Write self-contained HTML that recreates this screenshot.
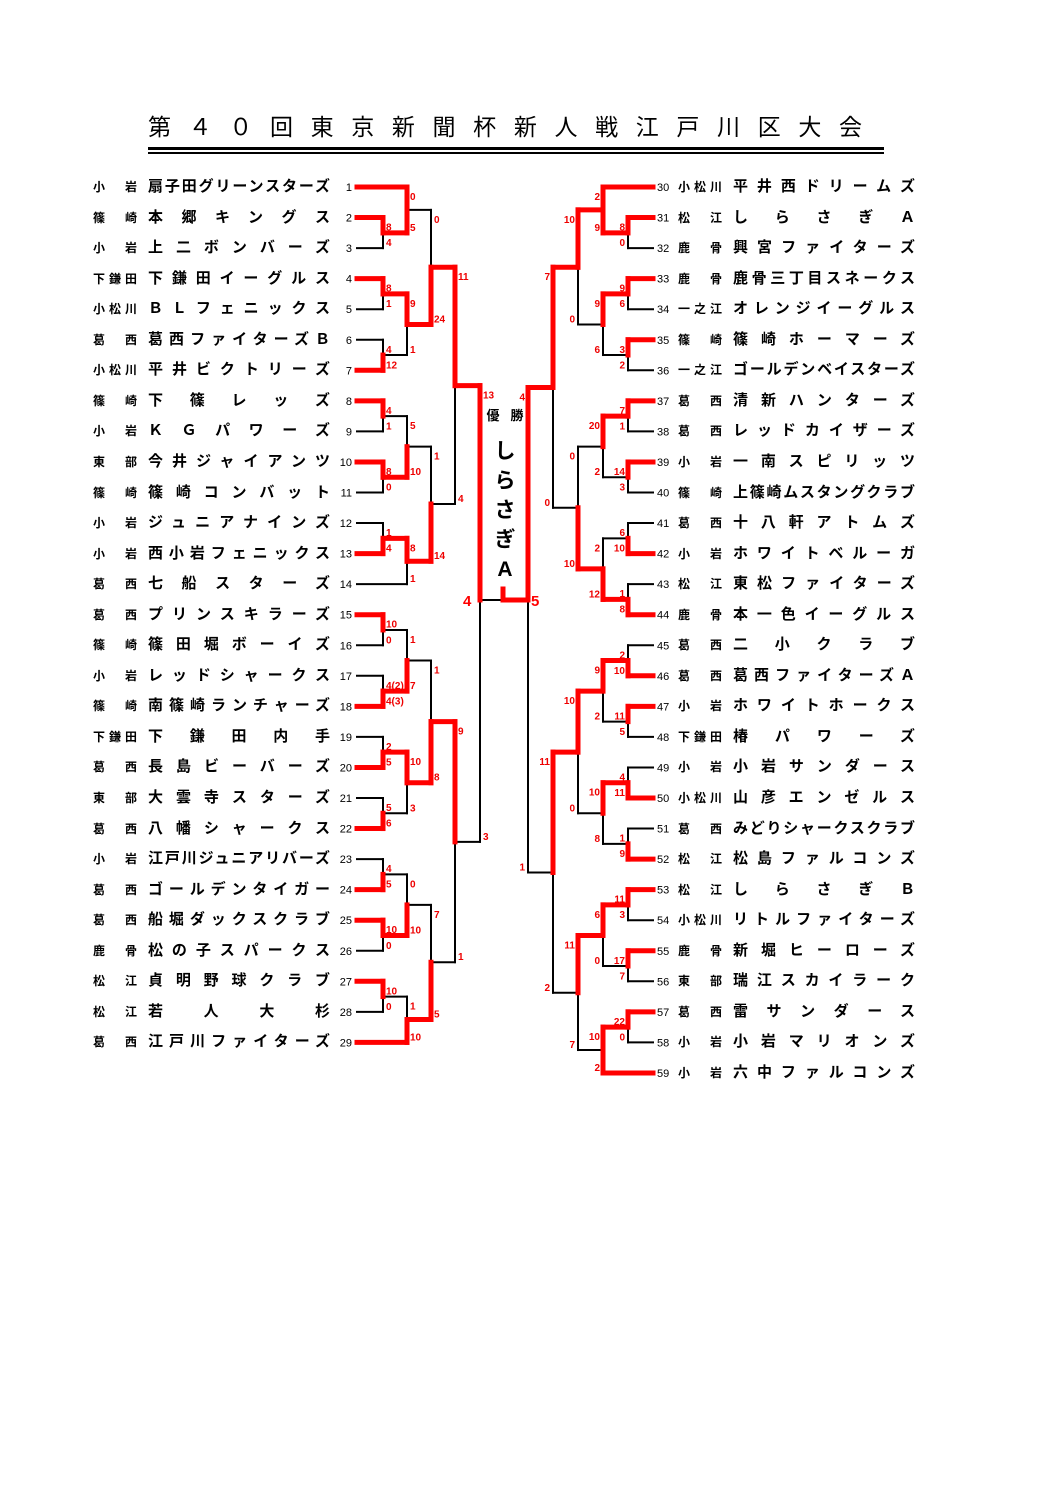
<!DOCTYPE html>
<html><head><meta charset="utf-8">
<style>
html,body{margin:0;padding:0;background:#fff;}
body{width:1058px;height:1497px;position:relative;overflow:hidden;font-family:"Liberation Sans","Noto Sans CJK JP",sans-serif;}
.t{position:absolute;height:20px;line-height:20px;font-size:15px;font-weight:bold;text-align:justify;text-align-last:justify;white-space:nowrap;color:#000;}
.rg{font-size:12px;}
#title{position:absolute;left:148px;top:108px;width:714px;font-size:23px;text-align:justify;text-align-last:justify;color:#000;font-family:"Noto Sans CJK JP",sans-serif;}
svg{position:absolute;left:0;top:0;}
</style></head><body>
<div id="title">第４０回東京新聞杯新人戦江戸川区大会</div>
<div style="position:absolute;left:148px;top:147px;width:736px;height:3px;background:#000"></div>
<div style="position:absolute;left:148px;top:152px;width:736px;height:1.5px;background:#000"></div>
<div id="names"></div>
<svg id="sv" width="1058" height="1497" xmlns="http://www.w3.org/2000/svg"></svg>
<script>
var left=[["小岩","扇子田グリーンスターズ"],["篠崎","本郷キングス"],["小岩","上二ボンバーズ"],["下鎌田","下鎌田イーグルス"],["小松川","ＢＬフェニックス"],["葛西","葛西ファイターズＢ"],["小松川","平井ビクトリーズ"],["篠崎","下篠レッズ"],["小岩","ＫＧパワーズ"],["東部","今井ジャイアンツ"],["篠崎","篠崎コンバット"],["小岩","ジュニアナインズ"],["小岩","西小岩フェニックス"],["葛西","七船スターズ"],["葛西","プリンスキラーズ"],["篠崎","篠田堀ボーイズ"],["小岩","レッドシャークス"],["篠崎","南篠崎ランチャーズ"],["下鎌田","下鎌田内手"],["葛西","長島ビーバーズ"],["東部","大雲寺スターズ"],["葛西","八幡シャークス"],["小岩","江戸川ジュニアリバーズ"],["葛西","ゴールデンタイガー"],["葛西","船堀ダックスクラブ"],["鹿骨","松の子スパークス"],["松江","貞明野球クラブ"],["松江","若人大杉"],["葛西","江戸川ファイターズ"]];
var right=[["小松川","平井西ドリームズ"],["松江","しらさぎＡ"],["鹿骨","興宮ファイターズ"],["鹿骨","鹿骨三丁目スネークス"],["一之江","オレンジイーグルス"],["篠崎","篠崎ホーマーズ"],["一之江","ゴールデンベイスターズ"],["葛西","清新ハンターズ"],["葛西","レッドカイザーズ"],["小岩","一南スピリッツ"],["篠崎","上篠崎ムスタングクラブ"],["葛西","十八軒アトムズ"],["小岩","ホワイトベルーガ"],["松江","東松ファイターズ"],["鹿骨","本一色イーグルス"],["葛西","二小クラブ"],["葛西","葛西ファイターズＡ"],["小岩","ホワイトホークス"],["下鎌田","椿パワーズ"],["小岩","小岩サンダース"],["小松川","山彦エンゼルス"],["葛西","みどりシャークスクラブ"],["松江","松島ファルコンズ"],["松江","しらさぎＢ"],["小松川","リトルファイターズ"],["鹿骨","新堀ヒーローズ"],["東部","瑞江スカイラーク"],["葛西","雷サンダース"],["小岩","小岩マリオンズ"],["小岩","六中ファルコンズ"]];
function Ly(i){return 187+(i-1)*30.55;}
function Ry(j){return 187+(j-30)*30.55;}
var h="";
left.forEach(function(t,k){var y=Ly(k+1)-10;
 h+='<div class="t rg" style="left:93px;top:'+y+'px;width:44px">'+t[0]+'</div>';
 h+='<div class="t" style="left:148px;top:'+y+'px;width:182px">'+t[1]+'</div>';});
right.forEach(function(t,k){var y=Ry(k+30)-10;
 h+='<div class="t rg" style="left:678px;top:'+y+'px;width:44px">'+t[0]+'</div>';
 h+='<div class="t" style="left:733px;top:'+y+'px;width:182px">'+t[1]+'</div>';});
document.getElementById("names").innerHTML=h;

var blk=[],red=[],txt=[];
function TL(i,r){return {leaf:1,x:357,y:Ly(i),red:r};}
function TR(j,r){return {leaf:1,x:653,y:Ry(j),red:r};}
function M(x,a,b,w,sa,sb,side,fy){
 a=typeof a=="number"?(side>0?TL(a):TR(a)):a; b=typeof b=="number"?(side>0?TL(b):TR(b)):b;
 var y=fy!==undefined?fy:(a.y+b.y)/2;
 [a,b].forEach(function(c,k){
  var r=(k==w)||c.red; var arr=r?red:blk;
  arr.push([c.x,c.y,x,c.y]); arr.push([x,c.y,x,y]);
 });
 var tx=side>0?x+3:x-3, an=side>0?"start":"end";
 txt.push([tx,a.y+13,sa,an]); txt.push([tx,b.y-2,sb,an]);
 return {x:x,y:y};
}
function ML(x,a,b,w,sa,sb,fy){return M(x,a,b,w,sa,sb,1,fy);}
function MR(x,a,b,w,sa,sb,fy){return M(x,a,b,w,sa,sb,-1,fy);}
var A=ML(383,2,3,0,'8','4');
var B=ML(407,TL(1,1),A,1,'0','5');
var E=ML(383,4,5,0,'8','1'),F=ML(383,6,7,1,'4','12'),D=ML(407,E,F,0,'9','1');
var C=ML(431,B,D,1,'0','24');
var K=ML(383,8,9,0,'4','1'),Lm=ML(383,10,11,0,'8','0'),I=ML(407,K,Lm,1,'5','10');
var N=ML(383,12,13,1,'1','4'),J=ML(407,N,14,0,'8','1'),H=ML(431,I,J,1,'1','14');
var G=ML(455,C,H,0,'11','4');
var Q=ML(383,15,16,0,'10','0'),R=ML(383,17,18,1,'4(2)','4(3)'),S=ML(407,Q,R,1,'1','7');
var Tm=ML(383,19,20,1,'2','5'),U=ML(383,21,22,1,'5','6'),V=ML(407,Tm,U,0,'10','3'),W=ML(431,S,V,1,'1','8');
var X=ML(383,23,24,1,'4','5'),Y=ML(383,25,26,0,'10','0'),Z=ML(407,X,Y,1,'0','10');
var AA=ML(383,27,28,0,'10','0'),BB=ML(407,AA,29,1,'1','10'),CC=ML(431,Z,BB,1,'7','5');
var DD=ML(455,W,CC,0,'9','1');
var EE=ML(480,G,DD,0,'13','3',600);
var r1=MR(628,31,32,0,'8','0'),r2=MR(603,TR(30,1),r1,1,'2','9'),r3=MR(628,33,34,0,'9','6'),r4=MR(628,35,36,0,'3','2'),r5=MR(603,r3,r4,0,'9','6'),r6=MR(578,r2,r5,0,'10','0');
var r7=MR(628,37,38,0,'7','1'),r8=MR(628,39,40,0,'14','3'),r9=MR(603,r7,r8,0,'20','2'),r10=MR(628,41,42,1,'6','10'),r11=MR(628,43,44,1,'1','8'),r12=MR(603,r10,r11,1,'2','12'),r13=MR(578,r9,r12,1,'0','10'),r14=MR(553,r6,r13,0,'7','0');
var r15=MR(628,45,46,1,'2','10'),r16=MR(628,47,48,0,'11','5'),r17=MR(603,r15,r16,0,'9','2'),r18=MR(628,49,50,1,'4','11'),r19=MR(628,51,52,1,'1','9'),r20=MR(603,r18,r19,0,'10','8'),r21=MR(578,r17,r20,0,'10','0');
var r22=MR(628,53,54,0,'11','3'),r23=MR(628,55,56,0,'17','7'),r24=MR(603,r22,r23,0,'6','0'),r25=MR(628,57,58,0,'22','0'),r26=MR(603,r25,TR(59,1),0,'10','2'),r27=MR(578,r24,r26,0,'11','7'),r28=MR(553,r21,r27,0,'11','2');
var FF=MR(528,r14,r28,0,'4','1',600);
blk.push([480,600,503,600]);
red.push([503,589,503,600]);red.push([503,600,528,600]);
var s="";
blk.forEach(function(l){s+='<line x1="'+l[0]+'" y1="'+l[1]+'" x2="'+l[2]+'" y2="'+l[3]+'" stroke="#000" stroke-width="2" stroke-linecap="square"/>';});
red.forEach(function(l){s+='<line x1="'+l[0]+'" y1="'+l[1]+'" x2="'+l[2]+'" y2="'+l[3]+'" stroke="#f00" stroke-width="5" stroke-linecap="square"/>';});
txt.forEach(function(t){s+='<text x="'+t[0]+'" y="'+t[1]+'" text-anchor="'+t[3]+'" font-family="Liberation Sans,sans-serif" font-size="10" font-weight="bold" fill="#e00">'+t[2]+'</text>';});
for(var i=1;i<=29;i++)s+='<text x="352" y="'+(Ly(i)+4)+'" text-anchor="end" font-family="Liberation Sans,sans-serif" font-size="11" fill="#000">'+i+'</text>';
for(var j=30;j<=59;j++)s+='<text x="657" y="'+(Ry(j)+4)+'" font-family="Liberation Sans,sans-serif" font-size="11" fill="#000">'+j+'</text>';
s+='<text x="463" y="606" font-family="Liberation Sans,sans-serif" font-size="15" font-weight="bold" fill="#f00">4</text>';
s+='<text x="531" y="606" font-family="Liberation Sans,sans-serif" font-size="15" font-weight="bold" fill="#f00">5</text>';
s+='<text x="493" y="420" text-anchor="middle" font-family="Noto Sans CJK JP,sans-serif" font-size="13" font-weight="bold">優</text>';
s+='<text x="517" y="420" text-anchor="middle" font-family="Noto Sans CJK JP,sans-serif" font-size="13" font-weight="bold">勝</text>';
var ch=["し","ら","さ","ぎ","A"];
ch.forEach(function(c,k){s+='<text x="505" y="'+(458+k*29.5)+'" text-anchor="middle" font-family="Liberation Sans,Noto Sans CJK JP,sans-serif" font-size="21" font-weight="bold">'+c+'</text>';});
document.getElementById("sv").innerHTML=s;
</script>
</body></html>
